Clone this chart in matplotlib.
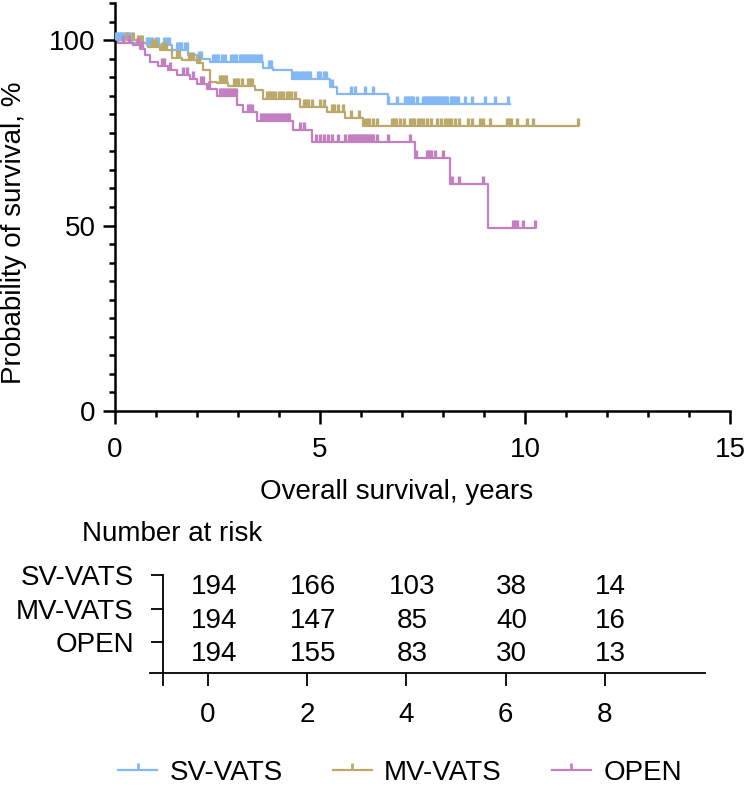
import numpy as np
import matplotlib
matplotlib.use('Agg')
import matplotlib.pyplot as plt
from matplotlib.lines import Line2D

plt.rcParams['font.family'] = ['Liberation Sans', 'DejaVu Sans']

# Kaplan-Meier steps (years, % surviving)
sv_t = [0, 0.41, 0.77, 1.38, 1.79, 1.99, 2.32, 3.62, 3.86, 4.31, 5.24, 5.41, 6.66, 9.63]
sv_s = [100, 99.3, 98.6, 97.3, 96.0, 94.8, 94.2, 92.4, 92.0, 89.6, 87.4, 85.6, 82.9, 82.9]
sv_c = [0.02, 0.06, 0.1, 0.14, 0.18, 0.22, 0.26, 0.3, 0.34, 0.38, 0.78, 0.84, 0.9, 1.0,
        1.06, 1.2, 1.26, 1.32, 1.5, 1.56, 1.62, 1.7, 1.76, 2.05, 2.1, 2.4, 2.46, 2.52,
        2.62, 2.68, 2.82, 2.9, 2.95, 3.05, 3.1, 3.15, 3.2, 3.25, 3.3, 3.35, 3.4, 3.45,
        3.5, 3.55, 3.75, 3.8, 4.35, 4.4, 4.45, 4.5, 4.55, 4.6, 4.65, 4.7, 4.75, 4.95,
        5.0, 5.1, 5.15, 5.3, 5.75, 5.85, 6.1, 6.3, 6.67, 6.87, 7.07, 7.12, 7.17, 7.22,
        7.28, 7.36, 7.5, 7.55, 7.6, 7.65, 7.7, 7.75, 7.8, 7.85, 7.9, 7.95, 8.0, 8.05,
        8.1, 8.2, 8.25, 8.3, 8.37, 8.54, 8.7, 9.02, 9.27, 9.59]

mv_t = [0, 0.53, 0.81, 1.10, 1.38, 1.63, 1.99, 2.15, 2.32, 2.48, 2.76, 3.41, 3.62, 4.51,
        5.16, 5.61, 6.04, 11.3]
mv_s = [100, 99.3, 98.2, 97.3, 95.3, 94.6, 93.9, 92.0, 88.8, 88.3, 87.6, 86.5, 84.1, 82.0,
        80.7, 78.9, 76.8, 76.8]
mv_c = [0.3, 0.45, 0.55, 0.6, 0.65, 0.9, 0.95, 1.0, 1.15, 1.2, 1.25, 1.5, 1.55, 1.8, 1.85,
        1.9, 2.05, 2.55, 2.6, 2.65, 2.7, 2.9, 2.95, 3.0, 3.1, 3.25, 3.3, 3.35, 3.7, 3.75,
        3.8, 3.85, 3.9, 4.0, 4.05, 4.1, 4.2, 4.25, 4.3, 4.4, 4.6, 4.65, 4.7, 4.8, 5.0,
        5.1, 5.3, 5.35, 5.45, 5.55, 5.75, 5.95, 6.1, 6.15, 6.2, 6.3, 6.4, 6.75, 6.8, 6.85,
        6.95, 7.05, 7.2, 7.25, 7.3, 7.4, 7.45, 7.5, 7.6, 7.7, 7.85, 7.95, 8.05, 8.13,
        8.2, 8.3, 8.4, 8.6, 8.7, 8.9, 8.98, 9.15, 9.55, 9.6, 9.65, 9.8, 10.04, 10.2, 11.3]

op_t = [0, 0.08, 0.45, 0.61, 0.73, 0.85, 1.06, 1.30, 1.50, 1.83, 1.99, 2.24, 2.48, 2.97,
        3.13, 3.46, 4.35, 4.80, 7.32, 8.17, 9.10, 10.24]
op_s = [100, 99.3, 98.6, 97.7, 96.0, 94.2, 92.9, 92.0, 90.7, 89.4, 88.1, 86.7, 85.0, 82.4,
        80.7, 78.1, 75.7, 72.6, 68.2, 61.3, 49.3, 49.3]
op_c = [0.2, 0.35, 0.55, 0.65, 1.15, 1.2, 1.35, 1.65, 1.75, 1.9, 2.1, 2.15, 2.3, 2.55,
        2.6, 2.65, 2.7, 2.75, 2.8, 2.85, 2.9, 2.95, 3.25, 3.3, 3.35, 3.55, 3.6, 3.65, 3.7,
        3.75, 3.8, 3.85, 3.9, 3.95, 4.0, 4.05, 4.1, 4.15, 4.2, 4.25, 4.5, 4.6, 4.9, 5.0,
        5.1, 5.2, 5.3, 5.45, 5.6, 5.7, 5.75, 5.8, 5.85, 5.9, 5.95, 6.0, 6.05, 6.1, 6.15,
        6.2, 6.25, 6.3, 6.38, 6.67, 7.2, 7.35, 7.6, 7.65, 7.7, 7.8, 8.0, 8.21, 8.39, 8.98,
        9.71, 9.76, 9.8, 9.96, 10.24]

groups = ['SV-VATS', 'MV-VATS', 'OPEN']
colors = ['#84b8f4', '#bba96c', '#c37fbf']

# number at risk table
risk_times = [0, 2, 4, 6, 8]
risk_sv = [194, 166, 103, 38, 14]
risk_mv = [194, 147, 85, 40, 16]
risk_op = [194, 155, 83, 30, 13]

W, H = 744, 791
fig = plt.figure(figsize=(W / 100, H / 100), dpi=100)
FS = 20

# main KM plot
ax = fig.add_axes([115 / W, 1 - 411 / H, (730 - 115) / W, (411 - 3) / H])
curves = [(sv_t, sv_s, sv_c), (mv_t, mv_s, mv_c), (op_t, op_s, op_c)]
for (t, s, c), col in zip(curves, colors):
    ax.step(t, s, where='post', color=col, lw=1.6, zorder=2)
    t_arr = np.array(t)
    idx = np.searchsorted(t_arr, c, side='right') - 1
    ax.plot(c, np.array(s)[idx], ls='none', marker=2, ms=5.5, mew=2.4, color=col, zorder=3)

ax.set_xlim(0, 15)
ax.set_ylim(0, 110)
ax.set_xticks([0, 5, 10, 15])
ax.set_xticks(range(0, 16), minor=True)
ax.set_yticks([0, 50, 100])
ax.set_yticks(range(0, 111, 5), minor=True)
for side in ['top', 'right']:
    ax.spines[side].set_visible(False)
for side in ['left', 'bottom']:
    ax.spines[side].set_linewidth(1.8)
ax.tick_params(which='major', direction='out', length=9, width=1.8, labelsize=FS)
ax.tick_params(which='minor', direction='out', length=4.5, width=1.8)
ax.tick_params(axis='x', pad=10)
ax.tick_params(axis='y', pad=5)

fig.text(14 / W, 1 - 233 / H, 'Probability of survival, %', rotation=90,
         ha='center', va='center', fontsize=FS)
fig.text(397 / W, 1 - 492 / H, 'Overall survival, years', ha='center', va='center', fontsize=FS)
fig.text(82 / W, 1 - 534 / H, 'Number at risk', ha='left', va='center', fontsize=FS)

# risk table axes
ax2 = fig.add_axes([150 / W, 1 - 685 / H, (705 - 150) / W, (685 - 575) / H])
ax2.set_xlim(-1.17, 10.02)
ax2.set_ylim(-0.28, 3.0)
ax2.patch.set_visible(False)
for side in ['top', 'right']:
    ax2.spines[side].set_visible(False)
ax2.spines['left'].set_position(('data', -0.907))
ax2.spines['bottom'].set_position(('data', 0.075))
for side in ['left', 'bottom']:
    ax2.spines[side].set_linewidth(1.3)
ax2.set_yticks([3, 2, 1])
ax2.set_yticklabels(groups)
ax2.set_xticks(risk_times)
ax2.tick_params(direction='out', length=9, width=1.3, labelsize=FS, pad=12)
for row, vals in zip([3, 2, 1], [risk_sv, risk_mv, risk_op]):
    for xt, v in zip(risk_times, vals):
        ax2.text(xt + 0.12, row - 0.36, str(v), ha='center', va='center', fontsize=FS)

handles = [Line2D([], [], color=col, lw=1.6, marker=2, ms=5, mew=2) for col in colors]
fig.legend(handles, groups, loc='center', bbox_to_anchor=(400 / W, 1 - 773 / H), ncol=3,
           frameon=False, fontsize=FS, handlelength=1.4, handletextpad=0.45,
           columnspacing=1.8, numpoints=1)

fig.savefig('out.png', dpi=100)
